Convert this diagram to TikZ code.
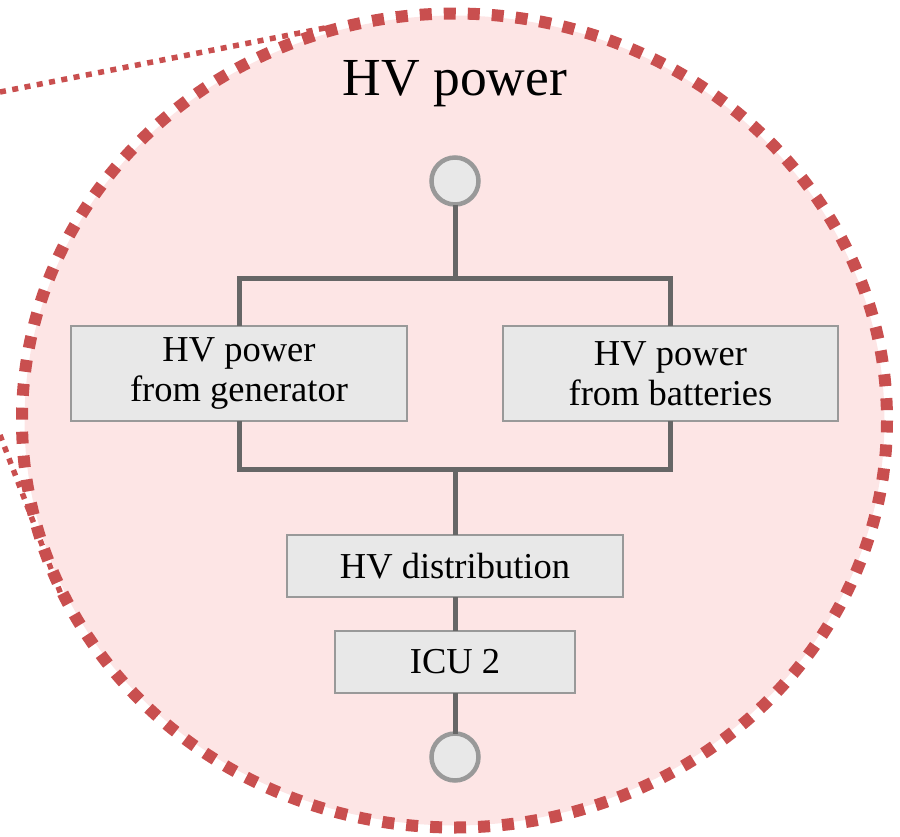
\documentclass[tikz,border=0pt]{standalone}
\usepackage{fontspec}
\setmainfont{Liberation Serif}
\definecolor{dashred}{HTML}{C94F4F}
\definecolor{pinkfill}{HTML}{FDE5E5}
\definecolor{linegray}{HTML}{666666}
\definecolor{bordergray}{HTML}{999999}
\definecolor{boxfill}{HTML}{E8E8E8}
\tikzset{
  blockbox/.style={draw=bordergray, fill=boxfill, line width=2.2pt, inner sep=0pt, outer sep=0pt,
    align=center, font=\fontsize{36.5}{40}\selectfont},
  port/.style={circle, draw=bordergray, fill=boxfill, line width=4.5pt, minimum size=47pt, inner sep=0pt, outer sep=0pt},
  wire/.style={draw=linegray, line width=5pt},
  zoomline/.style={draw=dashred, line width=5.5pt, dash pattern=on 6pt off 6.5pt},
}
\begin{document}
\begin{tikzpicture}[x=1pt,y=-1pt]
\useasboundingbox (0,0) rectangle (900,836);
% zoom lines
\coordinate (z1a) at (0,92);
\coordinate (z1b) at (330,27);
\coordinate (z2a) at (0,435);
\coordinate (z2b) at (62,597);
\draw[zoomline] (z1a) -- (z1b);
\draw[zoomline] (z2a) -- (z2b);
% magnifier
\fill[pinkfill] (454.5,420.5) ellipse [x radius=430, y radius=405];
\draw[dashred, line width=12pt, dash pattern=on 12pt off 12pt] (454.5,420.5) ellipse [x radius=432.5, y radius=407];
\node[font=\fontsize{53.5}{60}\selectfont, anchor=base] (title) at (455,95) {HV power};
% nodes
\node[port] (tc) at (455,181) {};
\node[port] (bc) at (455,757) {};
\node[blockbox, minimum width=336pt, minimum height=95pt] (gen) at (239,373.5) {HV power\\from generator};
\node[blockbox, minimum width=335pt, minimum height=95pt] (batt) at (670.5,373.5) {HV power\\from batteries};
\node[blockbox, minimum width=336pt, minimum height=62pt] (dist) at (455,566) {HV distribution};
\node[blockbox, minimum width=240pt, minimum height=62pt] (icu) at (455,662) {ICU 2};
\coordinate (bt) at (455,278);
\coordinate (bb) at (455,469);
% wires
\draw[wire] (tc.south) -- (bt);
\draw[wire] (gen.north) |- (bt) -| (batt.north);
\draw[wire] (gen.south) |- (bb) -| (batt.south);
\draw[wire] (bb) -- (dist.north);
\draw[wire] (dist.south) -- (icu.north);
\draw[wire] (icu.south) -- (bc.north);
\end{tikzpicture}
\end{document}
